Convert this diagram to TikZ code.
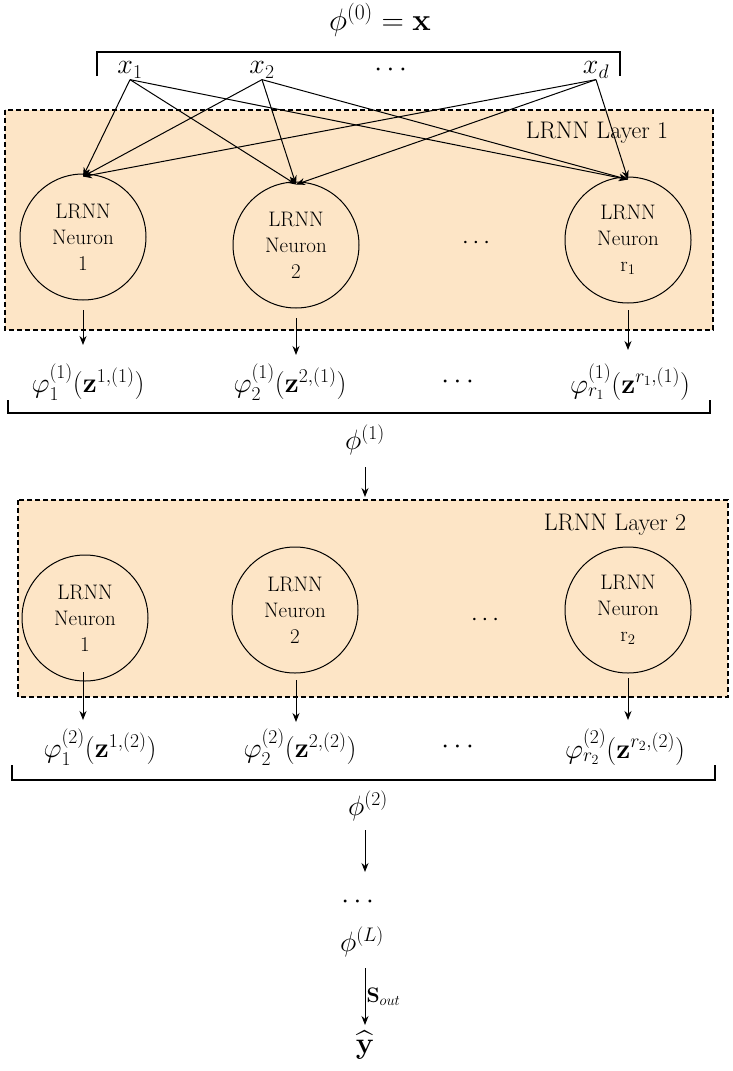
\documentclass[tikz,border=0pt]{standalone}
\usepackage{fix-cm}
\usepackage{amsmath}
\usepackage{amssymb}
\usetikzlibrary{arrows.meta}
\definecolor{layerfill}{HTML}{FDE5C6}
\newcommand{\neuronText}[1]{LRNN\\Neuron\\#1}
\begin{document}
\begin{tikzpicture}[x=1pt,y=-1pt, line width=1pt,
  neuron/.style={draw, circle, minimum size=126pt, align=center, font=\fontsize{21}{26}\selectfont, inner sep=0pt},
  layer/.style={draw, line width=2.2pt, dash pattern=on 5pt off 3pt, fill=layerfill},
  lbl/.style={font=\fontsize{24}{28}\selectfont},
  mth/.style={font=\fontsize{28}{32}\selectfont},
  >={Stealth[length=9pt,width=7pt]}]
  \useasboundingbox (0,0) rectangle (732,1071);
  \tikzset{every node/.style={inner sep=1pt}}
  % input
  \node[mth, font=\fontsize{31}{34}\selectfont] (phi0) at (380,20) {$\phi^{(0)}=\mathbf{x}$};
  \draw[line width=1.3pt] (97,76) -- (97,52) -- (620,52) -- (620,76);
  \node[mth] (x1) at (130,70) {$x_1$};
  \node[mth] (x2) at (262,70) {$x_2$};
  \node[mth] (xdots) at (393,70) {$\cdots$};
  \node[mth] (xd) at (596,70) {$x_d$};
  % layer 1
  \draw[layer] (5,110) rectangle (713,330);
  \node[lbl] (L1) at (597,133) {LRNN Layer 1};
  \node[neuron] (n11) at (83,237) {\neuronText{1}};
  \node[neuron] (n12) at (296,245) {\neuronText{2}};
  \node[lbl] (d1) at (478,243) {$\cdots$};
  \node[neuron] (n13) at (628,240) {\neuronText{r$_1$}};
  \foreach \s in {x1,x2,xd}
    \foreach \t in {n11,n12,n13}
      \draw[->] (\s.south) -- ([yshift=-3pt]\t.north);
  % outputs 1
  \node[mth] (o11) at (88,382) {$\varphi^{(1)}_1(\mathbf{z}^{1,(1)})$};
  \node[mth] (o12) at (290,382) {$\varphi^{(1)}_2(\mathbf{z}^{2,(1)})$};
  \node[mth] (od1) at (460,382) {$\cdots$};
  \node[mth] (o13) at (630,382) {$\varphi^{(1)}_{r_1}(\mathbf{z}^{r_1,(1)})$};
  \draw[->] (83,310) -- (83,345);
  \draw[->] (296,318) -- (296,355);
  \draw[->] (628,310) -- (628,350);
  \draw[line width=1.3pt] (8,400) -- (8,413) -- (710,413) -- (710,400);
  \node[mth] (phi1) at (365,440) {$\phi^{(1)}$};
  % layer 2
  \draw[layer] (18,500) rectangle (728,697);
  \node[lbl] (L2) at (615,525) {LRNN Layer 2};
  \node[neuron] (n21) at (85,618) {\neuronText{1}};
  \node[neuron] (n22) at (295,610) {\neuronText{2}};
  \node[lbl] (d2) at (487,620) {$\cdots$};
  \node[neuron] (n23) at (628,610) {\neuronText{r$_2$}};
  \draw[->] (365,467) -- (365,497);
  % outputs 2
  \node[mth] (o21) at (100,747) {$\varphi^{(2)}_1(\mathbf{z}^{1,(2)})$};
  \node[mth] (o22) at (300,747) {$\varphi^{(2)}_2(\mathbf{z}^{2,(2)})$};
  \node[mth] (od2) at (460,747) {$\cdots$};
  \node[mth] (o23) at (625,747) {$\varphi^{(2)}_{r_2}(\mathbf{z}^{r_2,(2)})$};
  \draw[->] (83,672) -- (83,720);
  \draw[->] (296,680) -- (296,722);
  \draw[->] (628,678) -- (628,720);
  \draw[line width=1.3pt] (12,765) -- (12,780) -- (715,780) -- (715,765);
  % output chain
  \node[mth] (phi2) at (368,806) {$\phi^{(2)}$};
  \node[mth] (vdots) at (360,902) {$\cdots$};
  \node[mth] (phiL) at (362,942) {$\phi^{(L)}$};
  \node[mth, font=\fontsize{30}{34}\selectfont] (yhat) at (365,1045) {$\widehat{\mathbf{y}}$};
  \coordinate (a2) at (365,830);
  \coordinate (b2) at (365,872);
  \coordinate (aL) at (365,968);
  \coordinate (bL) at (365,1025);
  \draw[->] (a2) -- (b2);
  \draw[->] (aL) -- node[right, font=\fontsize{21}{24}\selectfont] {$\mathbf{S}_{out}$} (bL);
\end{tikzpicture}
\end{document}
